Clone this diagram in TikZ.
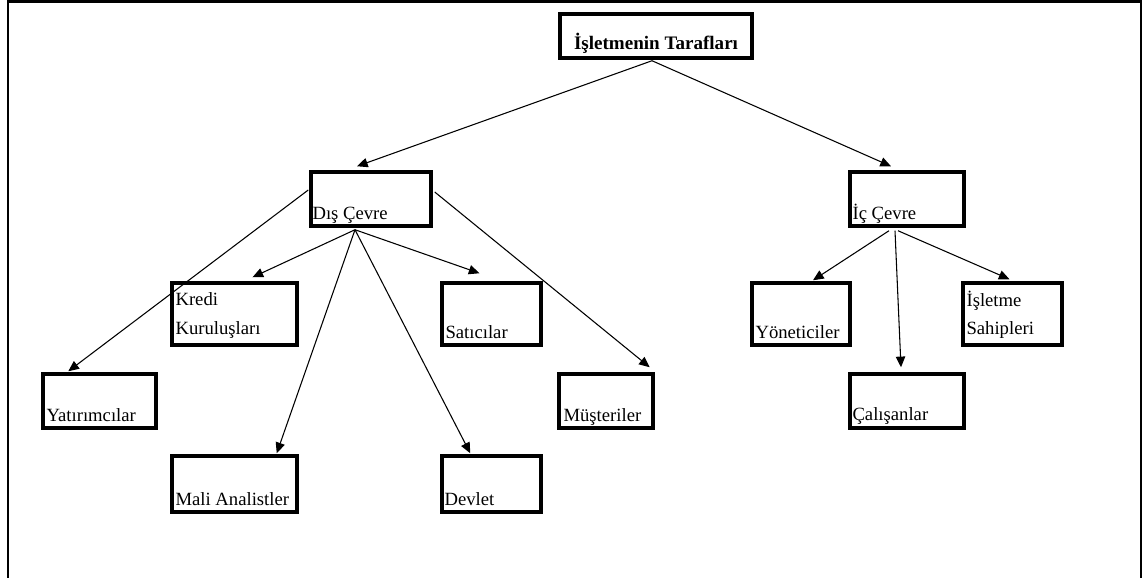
\documentclass[tikz,border=0pt]{standalone}
\usepackage{fontspec}
\setmainfont{Liberation Serif}
\usetikzlibrary{fit,arrows.meta}
\begin{document}
\begin{tikzpicture}[x=0.75pt,y=-0.75pt,
  box/.style={draw, line width=2.6pt, inner sep=0pt},
  txt/.style={anchor=base west, inner sep=0pt, font=\fontsize{14}{16}\selectfont},
  ttl/.style={anchor=base, inner sep=0pt, font=\fontsize{14.3}{16}\selectfont\bfseries},
  arr/.style={line width=0.8pt, -{Triangle[length=8pt,width=7pt]}},
]
\useasboundingbox (0,0) rectangle (1143,578);
% outer frame (open at the bottom)
\draw[line width=1.6pt] (8,578) -- (8,1.5) -- (1141,1.5) -- (1141,578);

% boxes
\node[box, fit={(560,14) (752,58)}]   (top) {};
\node[box, fit={(311,172) (431,226)}] (dis) {};
\node[box, fit={(850,172) (964,226)}] (ic) {};
\node[box, fit={(172,283) (297,345)}] (kredi) {};
\node[box, fit={(442,283) (541,345)}] (satici) {};
\node[box, fit={(43,374) (156,428)}]  (yatirim) {};
\node[box, fit={(559,374) (653,428)}] (musteri) {};
\node[box, fit={(172,456) (297,512)}] (mali) {};
\node[box, fit={(442,456) (541,512)}] (devlet) {};
\node[box, fit={(752,283) (850,345)}] (yonetici) {};
\node[box, fit={(963,283) (1062,345)}] (sahip) {};
\node[box, fit={(850,374) (964,428)}] (calisan) {};

% labels
\node[ttl] at ([shift={(0,-10)}]top.south) {İşletmenin Tarafları};
\node[txt] at ([shift={(3,-8)}]dis.south west) {Dış Çevre};
\node[txt] at ([shift={(4,-8)}]ic.south west) {İç Çevre};
\node[txt] at ([shift={(5,24)}]kredi.north west) {Kredi};
\node[txt] at ([shift={(5,53)}]kredi.north west) {Kuruluşları};
\node[txt] at ([shift={(5,-8)}]satici.south west) {Satıcılar};
\node[txt] at ([shift={(5,-8)}]yatirim.south west) {Yatırımcılar};
\node[txt] at ([shift={(6,-8)}]musteri.south west) {Müşteriler};
\node[txt] at ([shift={(5,-8)}]mali.south west) {Mali Analistler};
\node[txt] at ([shift={(4,-8)}]devlet.south west) {Devlet};
\node[txt] at ([shift={(5,-8)}]yonetici.south west) {Yöneticiler};
\node[txt] at ([shift={(5,25)}]sahip.north west) {İşletme};
\node[txt] at ([shift={(5,53)}]sahip.north west) {Sahipleri};
\node[txt] at ([shift={(4,-9)}]calisan.south west) {Çalışanlar};

% connectors
\draw[arr] ([shift={(-4,1)}]top.south) -- ([shift={(-14,-4)}]dis.north);
\draw[arr] ([shift={(-4,1)}]top.south) -- ([shift={(-16,-4)}]ic.north);

\draw[arr] ([shift={(-1,-9)}]dis.west) -- ([shift={(27,-1)}]yatirim.north west);
\draw[arr] ([shift={(-16,2)}]dis.south) -- ([shift={(18,-4)}]kredi.north);
\draw[arr] ([shift={(-16,2)}]dis.south) -- ([shift={(-12,-8)}]satici.north);
\draw[arr] ([shift={(-16,2)}]dis.south) -- ([shift={(-22,-1)}]mali.north east);
\draw[arr] ([shift={(-16,2)}]dis.south) -- ([shift={(30,-1)}]devlet.north west);
\draw[arr] ([shift={(2,-7)}]dis.east) -- ([shift={(-5,-5)}]musteri.north east);

\draw[arr] ([shift={(-18,3)}]ic.south) -- ([shift={(12,-1)}]yonetici.north);
\draw[arr] ([shift={(-12,3)}]ic.south) -- ([shift={(-6,-5)}]calisan.north);
\draw[arr] ([shift={(-9,3)}]ic.south) -- ([shift={(-3,-2)}]sahip.north);
\end{tikzpicture}
\end{document}
